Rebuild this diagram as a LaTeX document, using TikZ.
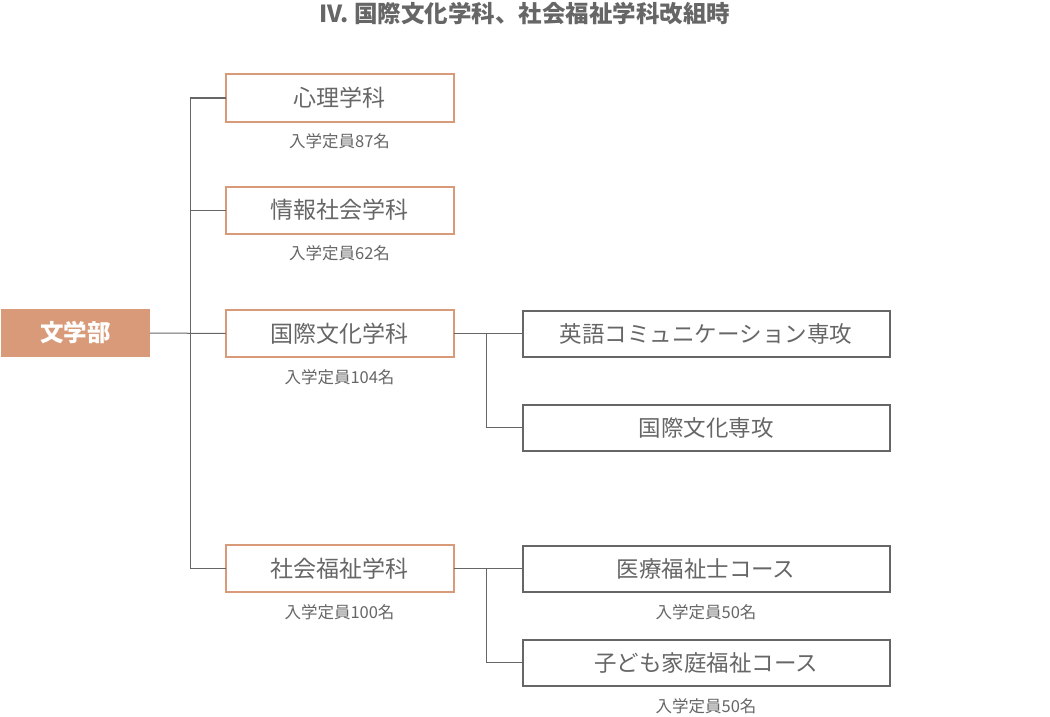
\documentclass[tikz,border=0pt]{standalone}
\usepackage{fontspec}
\setmainfont{Noto Sans CJK JP}
\newfontfamily\cjk{Noto Sans CJK JP}
\definecolor{accent}{HTML}{D99A7A}
\definecolor{txt}{HTML}{666666}
\begin{document}
\begin{tikzpicture}[x=1pt,y=-1pt,
  every node/.style={inner sep=0pt,outer sep=0pt},
  dept/.style={draw=accent,line width=2pt,minimum width=228pt,minimum height=47pt,text=txt,font=\cjk\fontsize{23}{26}\selectfont},
  sub/.style={draw=txt,line width=2pt,minimum width=367pt,minimum height=46pt,text=txt,font=\cjk\fontsize{22.5}{26}\selectfont},
  captext/.style={text=txt,font=\cjk\fontsize{16.5}{19}\selectfont},
  conn/.style={draw=txt,line width=1pt}]
\useasboundingbox (0,0) rectangle (1050,717);
\node[text=txt,font=\cjk\bfseries\fontsize{23.5}{26}\selectfont] (title) at (525,14) {IV. 国際文化学科、社会福祉学科改組時};
\node[fill=accent,minimum width=149pt,minimum height=48pt,text=white,font=\cjk\bfseries\fontsize{23.5}{26}\selectfont] (root) at (75.5,333) {文学部};
\node[dept] (d1) at (339.5,98) {心理学科};
\node[captext] (c1) at (339.5,141) {入学定員87名};
\node[dept] (d2) at (339.5,210) {情報社会学科};
\node[captext] (c2) at (339.5,253) {入学定員62名};
\node[dept] (d3) at (339.5,333.5) {国際文化学科};
\node[captext] (c3) at (339.5,377) {入学定員104名};
\node[dept] (d4) at (339.5,568.5) {社会福祉学科};
\node[captext] (c4) at (339.5,612) {入学定員100名};
\node[sub] (s1) at (706,333.5) {英語コミュニケーション専攻};
\node[sub] (s2) at (706,427.5) {国際文化専攻};
\node[sub] (s3) at (706,568.5) {医療福祉士コース};
\node[captext] (c5) at (706,612) {入学定員50名};
\node[sub] (s4) at (706,662.5) {子ども家庭福祉コース};
\node[captext] (c6) at (706,706) {入学定員50名};
\coordinate (trunk) at (190,0);
\coordinate (b1) at (486,0);
\draw[conn] (root.east) -- (d3.west);
\draw[conn] (d1.west) -| (trunk |- d4.west) -- (d4.west);
\draw[conn] (d2.west) -- (trunk |- d2.west);
\draw[conn] (d3.east) -- (s1.west);
\draw[conn] (b1 |- s1.west) |- (s2.west);
\draw[conn] (d4.east) -- (s3.west);
\draw[conn] (b1 |- s3.west) |- (s4.west);
\end{tikzpicture}
\end{document}
